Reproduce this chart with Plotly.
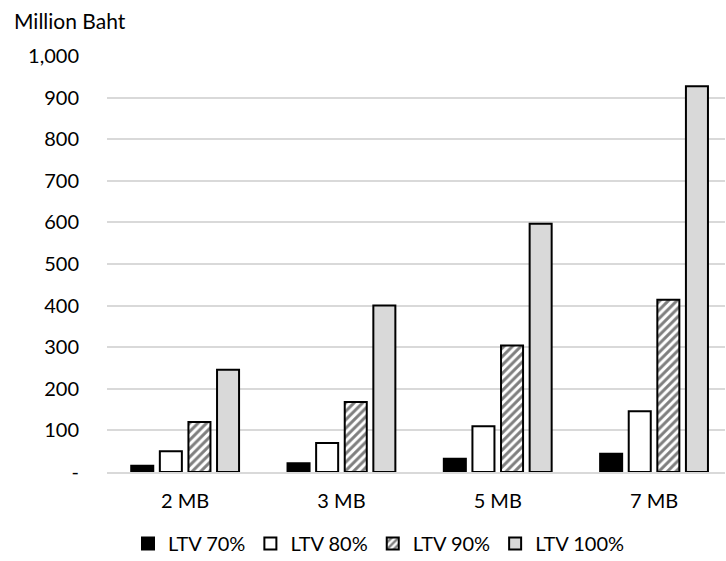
import plotly.graph_objects as go

categories = ["2 MB", "3 MB", "5 MB", "7 MB"]
series_names = ["LTV 70%", "LTV 80%", "LTV 90%", "LTV 100%"]
ltv70 = [15, 21, 32, 44]
ltv80 = [50, 70, 110, 146]
ltv90 = [120, 168, 304, 414]
ltv100 = [246, 400, 597, 927]
y_tickvals = [0, 100, 200, 300, 400, 500, 600, 700, 800, 900, 1000]
y_ticktext = ["-", "100", "200", "300", "400", "500", "600", "700", "800", "900", "1,000"]

font_family = "Lato, 'Open Sans', sans-serif"

styles = [
    dict(color="#000000"),
    dict(color="#ffffff"),
    dict(color="#ffffff", pattern=dict(shape="/", fgcolor="#000000", bgcolor="#ffffff", size=6, solidity=0.5)),
    dict(color="#d9d9d9"),
]

fig = go.Figure()
for name, vals, st in zip(series_names, [ltv70, ltv80, ltv90, ltv100], styles):
    fig.add_trace(go.Bar(
        x=categories, y=vals, name=name,
        marker=dict(line=dict(color="#000000", width=2), **st),
    ))

fig.update_layout(
    width=726, height=561,
    margin=dict(l=107, r=1, t=56, b=89, autoexpand=False),
    paper_bgcolor="white", plot_bgcolor="white",
    barmode="group", bargap=0.268, bargroupgap=0.23,
    font=dict(family=font_family, size=20, color="#000000"),
    showlegend=True,
    legend=dict(orientation="h", xref="container", yref="container",
                x=128 / 726, xanchor="left", y=1 - 524 / 561, yanchor="top",
                font=dict(size=20), itemwidth=30, traceorder="normal"),
    xaxis=dict(showgrid=False, showline=True, linecolor="#d9d9d9", linewidth=2,
               range=[-0.5, 3.454], automargin=False,
               ticks="", tickfont=dict(size=20), ticklabelstandoff=10),
    yaxis=dict(range=[0, 1000], tickvals=y_tickvals, ticktext=y_ticktext,
               showgrid=True, gridcolor="#d9d9d9", gridwidth=1.5, automargin=False,
               zeroline=False, showline=False, ticks="", ticklabelstandoff=27,
               tickfont=dict(size=20)),
    annotations=[dict(text="Million Baht", xref="paper", yref="paper", x=-95 / 618, y=1,
                      xanchor="left", yanchor="bottom", yshift=21, showarrow=False,
                      font=dict(size=21))],
)

fig.write_html("out.html", config={"displayModeBar": False},
               post_script="document.body.style.margin='0';")
